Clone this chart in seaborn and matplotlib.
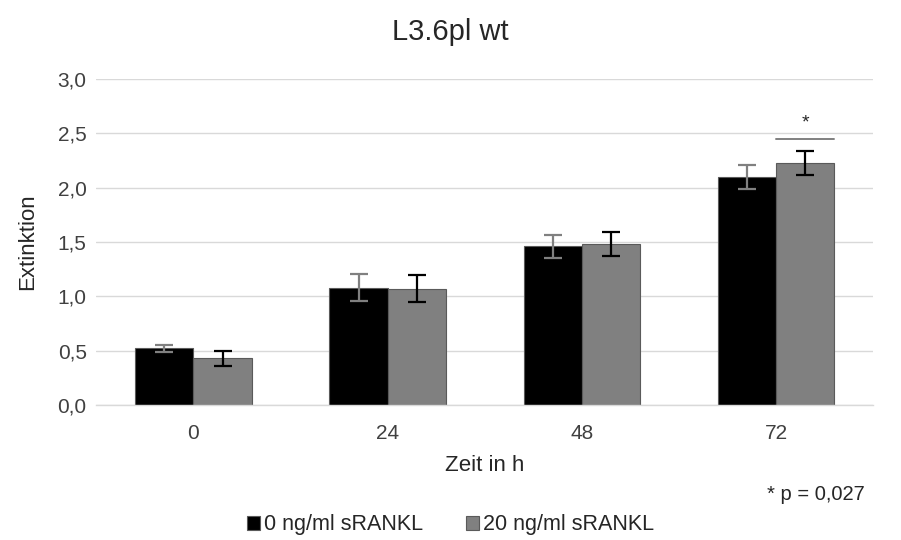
import matplotlib
matplotlib.use("Agg")
import matplotlib.pyplot as plt
import seaborn as sns
import pandas as pd
import numpy as np

# Extinction values over time for L3.6pl wt cells
zeit = ["0", "24", "48", "72"]
gruppen = ["0 ng/ml sRANKL", "20 ng/ml sRANKL"]
werte_0 = [0.52, 1.08, 1.46, 2.10]
werte_20 = [0.43, 1.07, 1.48, 2.23]
fehler_0 = [0.035, 0.125, 0.105, 0.11]
fehler_20 = [0.07, 0.125, 0.11, 0.11]
y_ticks = [0.0, 0.5, 1.0, 1.5, 2.0, 2.5, 3.0]
y_tick_labels = ["0,0", "0,5", "1,0", "1,5", "2,0", "2,5", "3,0"]
sig_hoehe = 2.45
p_text = "* p = 0,027"

sns.set_theme(style="white")
plt.rcParams["font.family"] = ["Liberation Sans", "DejaVu Sans"]

df = pd.DataFrame({
    "Zeit": zeit * 2,
    "Gruppe": [gruppen[0]] * 4 + [gruppen[1]] * 4,
    "Extinktion": werte_0 + werte_20,
})

fig = plt.figure(figsize=(9.01, 5.40), dpi=100)
ax = fig.add_axes([0.107, 0.25, 0.862, 0.604])

farben = ["#000000", "#808080"]
sns.barplot(data=df, x="Zeit", y="Extinktion", hue="Gruppe", order=zeit,
            hue_order=gruppen, palette=farben, width=0.6, errorbar=None,
            linewidth=0.8, edgecolor="#5a5a5a", ax=ax, legend=True, zorder=2)
balken = [list(c.patches) for c in ax.containers]

# error bars at the bar centres
fehler = [fehler_0, fehler_20]
err_farben = ["#808080", "#000000"]
for i, patches in enumerate(balken):
    xs = [p.get_x() + p.get_width() / 2 for p in patches]
    hs = [p.get_height() for p in patches]
    ax.errorbar(xs, hs, yerr=fehler[i], fmt="none", ecolor=err_farben[i],
                elinewidth=1.6, capsize=6.5, capthick=1.6, zorder=3)

# significance marker for 72 h
c72 = [balken[0][3], balken[1][3]]
x_l = c72[0].get_x() + c72[0].get_width()
x_r = c72[1].get_x() + c72[1].get_width()
ax.plot([x_l, x_r], [sig_hoehe, sig_hoehe], color="#808080", lw=1.4, zorder=3)
ax.text((x_l + x_r) / 2, sig_hoehe + 0.07, "*", ha="center", va="bottom",
        fontsize=14, color="#262626")

ax.set_ylim(0, 3.0)
ax.set_xlim(-0.5, 3.5)
ax.set_yticks(y_ticks)
ax.set_yticklabels(y_tick_labels)
ax.yaxis.grid(True, color="#d9d9d9", lw=1.0, zorder=0)
ax.set_axisbelow(True)
for s in ["top", "right", "left"]:
    ax.spines[s].set_visible(False)
ax.spines["bottom"].set_color("#d9d9d9")
ax.spines["bottom"].set_linewidth(1.0)
ax.tick_params(axis="both", length=0, labelsize=15, colors="#404040")
ax.tick_params(axis="x", pad=14)
ax.tick_params(axis="y", pad=7)
ax.set_xlabel("Zeit in h", fontsize=16, color="#262626", labelpad=8)
ax.set_ylabel("Extinktion", fontsize=16, color="#262626", labelpad=14)
fig.text(0.5, 0.925, "L3.6pl wt", ha="center", va="baseline", fontsize=21,
         color="#262626")

ax.legend(loc="center", bbox_to_anchor=(0.5, 0.028), bbox_transform=fig.transFigure,
          ncol=2, frameon=False, fontsize=15.5, handlelength=0.6, handleheight=0.6,
          handletextpad=0.2, columnspacing=2.0, labelcolor="#262626")

fig.text(0.96, 0.085, p_text, ha="right", va="center", fontsize=14.5, color="#262626")

fig.savefig("out.png", dpi=100)
